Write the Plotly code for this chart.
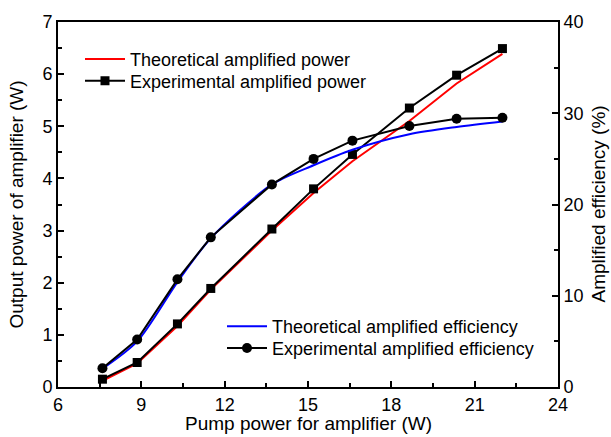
import plotly.graph_objects as go

pump = [7.6, 8.85, 10.3, 11.5, 13.7, 15.2, 16.6, 18.65, 20.35, 22.0]
exp_power = [0.15, 0.47, 1.21, 1.89, 3.03, 3.80, 4.46, 5.35, 5.98, 6.49]
theo_power = [0.12, 0.45, 1.17, 1.87, 3.00, 3.72, 4.33, 5.10, 5.82, 6.39]
exp_eff = [2.05, 5.2, 11.8, 16.4, 22.2, 25.0, 27.0, 28.6, 29.4, 29.5]
theo_eff = [2.0, 5.0, 11.5, 16.3, 22.2, 24.3, 26.0, 27.7, 28.5, 29.1]

FONT = "Liberation Sans, Arial, sans-serif"

fig = go.Figure()
fig.add_trace(go.Scatter(x=pump, y=theo_power, mode="lines", name="Theoretical amplified power",
                         line=dict(color="#ff0000", width=2), legend="legend"))
fig.add_trace(go.Scatter(x=pump, y=exp_power, mode="lines+markers", name="Experimental amplified power",
                         line=dict(color="black", width=2), marker=dict(symbol="square", size=9, color="black"),
                         legend="legend2"))
fig.add_trace(go.Scatter(x=pump, y=theo_eff, mode="lines", name="Theoretical amplified efficiency",
                         line=dict(color="#0000ff", width=2, shape="spline", smoothing=0.8), yaxis="y2",
                         legend="legend3"))
fig.add_trace(go.Scatter(x=pump, y=exp_eff, mode="lines+markers", name="Experimental amplified efficiency",
                         line=dict(color="black", width=2), marker=dict(symbol="circle", size=10, color="black"),
                         yaxis="y2", legend="legend4"))

axcommon = dict(showgrid=False, zeroline=False, showline=True, linecolor="black", linewidth=2,
                ticks="inside", ticklen=6, tickwidth=2, tickcolor="black",
                tickfont=dict(family=FONT, size=18, color="black"))

def leg(x, y):
    return dict(x=x, y=y, xanchor="left", yanchor="top", bgcolor="rgba(0,0,0,0)",
                font=dict(family=FONT, size=18), tracegroupgap=0, itemwidth=40, visible=True)

fig.update_layout(
    width=611, height=437,
    showlegend=True,
    margin=dict(l=58, r=53, t=17, b=50),
    paper_bgcolor="white", plot_bgcolor="white",
    font=dict(family=FONT, color="black"),
    xaxis=dict(range=[6, 24], dtick=3, tick0=0, mirror=True,
               minor=dict(ticks="inside", ticklen=4, tickwidth=2, tickcolor="black", dtick=1.5),
               **axcommon),
    yaxis=dict(range=[0, 7], dtick=1,
               minor=dict(ticks="inside", ticklen=4, tickwidth=2, tickcolor="black", dtick=0.5),
               **axcommon),
    yaxis2=dict(range=[0, 40], dtick=10, overlaying="y", side="right",
                minor=dict(ticks="inside", ticklen=4, tickwidth=2, tickcolor="black", dtick=5),
                **axcommon),
    legend=leg(0.044, 0.9486),
    legend2=leg(0.044, 0.8892),
    legend3=leg(0.328, 0.2162),
    legend4=leg(0.328, 0.1568),
    annotations=[
        dict(text="Pump power for amplifier (W)", x=0.5, y=-0.1, xref="paper", yref="paper",
             xanchor="center", yanchor="middle", showarrow=False, font=dict(family=FONT, size=19)),
        dict(text="Output power of amplifier (W)", x=-0.084, y=0.5, xref="paper", yref="paper",
             xanchor="center", yanchor="middle", textangle=-90, showarrow=False,
             font=dict(family=FONT, size=19)),
        dict(text="Amplified efficiency (%)", x=1.08, y=0.5, xref="paper", yref="paper",
             xanchor="center", yanchor="middle", textangle=-90, showarrow=False,
             font=dict(family=FONT, size=19)),
    ],
)

fig.write_html("out.html", config={"displayModeBar": False},
               post_script="document.body.style.margin='0';document.body.style.padding='0';")
